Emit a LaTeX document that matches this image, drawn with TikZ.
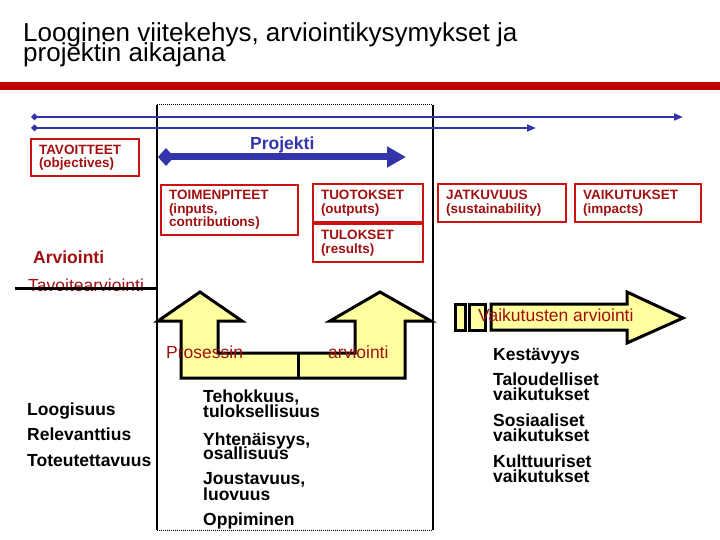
\documentclass[tikz,border=0pt]{standalone}
\usepackage{fontspec}
\setmainfont{Liberation Sans}
\usetikzlibrary{arrows.meta}
\definecolor{barred}{RGB}{192,0,0}
\definecolor{boxred}{RGB}{206,18,18}
\definecolor{txtred}{RGB}{160,16,16}
\definecolor{tlblue}{RGB}{51,51,170}
\definecolor{lyellow}{RGB}{255,255,160}
\newcommand{\myfs}[2]{\fontsize{#1}{#2}\selectfont}
\begin{document}
\begin{tikzpicture}[x=1pt,y=-1pt,
  rbox/.style={draw=boxred, line width=2.5pt, text=txtred, font=\bfseries\myfs{13.5}{13.5}, align=left, inner xsep=8pt, inner ysep=0pt},
  bodytxt/.style={anchor=base west, inner sep=0pt, font=\bfseries\myfs{17.5}{17.5}},
  redlbl/.style={anchor=base west, inner sep=0pt, text=txtred, font=\myfs{17.5}{17.5}},
  titletxt/.style={anchor=base west, inner sep=0pt, font=\myfs{26}{26}},
  thinblue/.style={tlblue, line width=2pt, {Diamond[length=7pt,width=7pt]}-{Triangle[length=9pt,width=7pt]}},
  yshape/.style={draw=black, line width=3pt, fill=lyellow, line join=miter}
]
\useasboundingbox (0,0) rectangle (720,540);

% title
\node[titletxt] (t1) at (23,41.5) {Looginen viitekehys, arviointikysymykset ja};
\node[titletxt] (t2) at (23,61.5) {projektin aikajana};
\fill[barred] (0,82) rectangle (720,90);

% frame
\coordinate (ftl) at (157,105);
\coordinate (ftr) at (433,105);
\coordinate (fbl) at (157,530);
\coordinate (fbr) at (433,530);
\draw[line width=1pt, dash pattern=on 1pt off 1pt] (ftl) -- (ftr);
\draw[line width=1pt, dash pattern=on 1pt off 1pt] (fbl) -- (fbr);
\draw[line width=2pt] (ftl) -- (fbl);
\draw[line width=2pt] (ftr) -- (fbr);

% timelines
\coordinate (b1s) at (31,117);
\coordinate (b1e) at (683,117);
\coordinate (b2s) at (31,128);
\coordinate (b2e) at (536,128);
\draw[thinblue] (b1s) -- (b1e);
\draw[thinblue] (b2s) -- (b2e);

% Projekti
\coordinate (ps) at (158,157);
\coordinate (pe) at (406,157);
\draw[tlblue, line width=7pt, {Diamond[length=16pt,width=18pt]}-{Triangle[length=19pt,width=20pt]}] (ps) -- (pe);
\node[anchor=base west, inner sep=0pt, text=tlblue, font=\bfseries\myfs{17.5}{17.5}] (proj) at (250,150) {Projekti};

% boxes
\node[rbox, text width=92pt, minimum height=37pt] (tav) at (85,157.5) {TAVOITTEET\\(objectives)};
\node[rbox, text width=121pt, minimum height=50pt] (toim) at (229.5,210) {TOIMENPITEET\\(inputs,\\contributions)};
\node[rbox, text width=94pt, minimum height=38pt] (tuot) at (368,203) {TUOTOKSET\\(outputs)};
\node[rbox, text width=94pt, minimum height=38pt] (tul) at (368,243) {TULOKSET\\(results)};
\node[rbox, text width=112pt, minimum height=38pt] (jatk) at (502,203) {JATKUVUUS\\(sustainability)};
\node[rbox, text width=110pt, minimum height=38pt] (vaik) at (638,203) {VAIKUTUKSET\\(impacts)};

% Arviointi / Tavoitearviointi
\node[redlbl, font=\bfseries\myfs{17.5}{17.5}] (arv) at (33,263) {Arviointi};
\node[redlbl] (tavarv) at (28,291) {Tavoitearviointi};
\coordinate (tls) at (15,288);
\coordinate (tle) at (157,288);
\draw[line width=3pt] (tls) -- (tle);

% process arrows
\draw[yshape] (200,292) -- (242,321) -- (218,321) -- (218,353) -- (355,353) -- (355,321)
  -- (330,321) -- (380,292) -- (431,321) -- (405,321) -- (405,378) -- (181,378)
  -- (181,321) -- (158,321) -- cycle;
\draw[line width=3pt] (298,353) -- (298,378);
\node[redlbl] (pros) at (166,358) {Prosessin};
\node[redlbl] (parv) at (328,358) {arviointi};

% impact arrow
\draw[yshape] (455,304) rectangle (465,330);
\draw[yshape] (469,304) rectangle (485,330);
\draw[yshape] (491,304) -- (627,304) -- (627,292) -- (683,318) -- (627,343) -- (627,330) -- (491,330) -- cycle;
\node[redlbl] (varv) at (478,321) {Vaikutusten arviointi};

% left column
\node[bodytxt] (l1) at (27,415) {Loogisuus};
\node[bodytxt] (l2) at (27,440.5) {Relevanttius};
\node[bodytxt] (l3) at (27,466) {Toteutettavuus};

% middle column
\node[bodytxt] (m1) at (203,402.7) {Tehokkuus,};
\node[bodytxt] (m2) at (203,417.7) {tuloksellisuus};
\node[bodytxt] (m3) at (203,445.7) {Yhtenäisyys,};
\node[bodytxt] (m4) at (203,459.3) {osallisuus};
\node[bodytxt] (m5) at (203,484.3) {Joustavuus,};
\node[bodytxt] (m6) at (203,500) {luovuus};
\node[bodytxt] (m7) at (203,525.5) {Oppiminen};

% right column
\node[bodytxt] (r1) at (493,360) {Kestävyys};
\node[bodytxt] (r2) at (493,385) {Taloudelliset};
\node[bodytxt] (r3) at (493,400) {vaikutukset};
\node[bodytxt] (r4) at (493,426.7) {Sosiaaliset};
\node[bodytxt] (r5) at (493,441) {vaikutukset};
\node[bodytxt] (r6) at (493,467.3) {Kulttuuriset};
\node[bodytxt] (r7) at (493,482.3) {vaikutukset};
\end{tikzpicture}
\end{document}
